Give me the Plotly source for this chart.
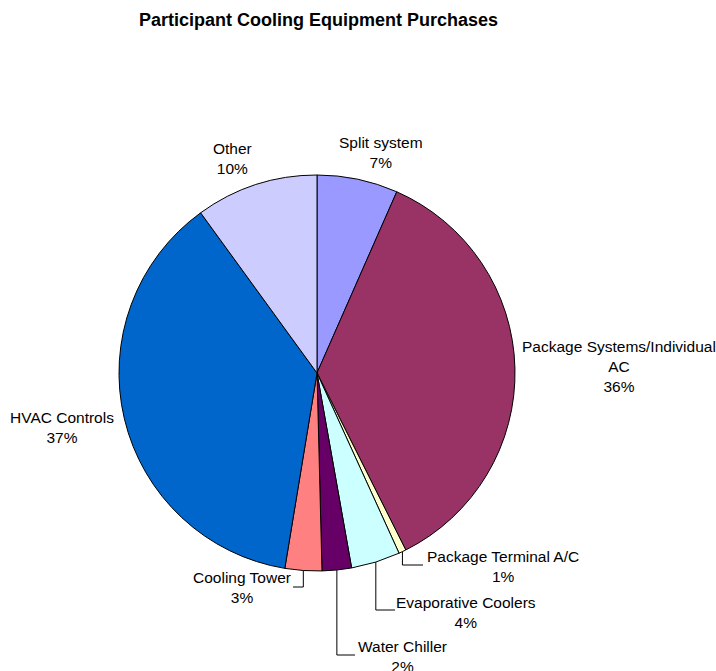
import math
import plotly.graph_objects as go

# ---- data ----
categories = ["Split system", "Package Systems/Individual<br>AC", "Package Terminal A/C",
              "Evaporative Coolers", "Water Chiller", "Cooling Tower", "HVAC Controls", "Other"]
values = [6.6, 36.0, 0.6, 4.0, 2.4, 3.0, 37.4, 10.0]
colors = ["#9999FF", "#993366", "#FFFFCC", "#CCFFFF", "#660066", "#FF8080", "#0066CC", "#CCCCFF"]

# ---- layout (pixels) ----
W, H = 716, 671
CX, CY, R = 317, 373, 198
FONT = "Liberation Sans, Arial, sans-serif"

# label centre positions (px) and optional leader elbow (elbow_y, end_x)
label_pos = [(381, 152), (619, 366), (503, 566), (466, 612), (402, 656), (242, 587), (62, 427), (232, 158)]
leaders = {2: (565, 423), 3: (610, 395), 4: (655, 355), 5: (587, 293)}

def px(x):
    return x / W

def py(y):
    return 1 - y / H

total = sum(values)
fig = go.Figure(go.Pie(
    labels=[c.replace("<br>", " ") for c in categories],
    values=values,
    sort=False,
    direction="clockwise",
    rotation=0,
    marker=dict(colors=colors, line=dict(color="black", width=1)),
    textinfo="none",
    showlegend=False,
    domain=dict(x=[px(CX - R), px(CX + R)], y=[py(CY + R), py(CY - R)]),
))

annotations = []
shapes = []
cum = 0.0
for i, (name, v) in enumerate(zip(categories, values)):
    frac = v / total
    mid = (cum + frac / 2) * 2 * math.pi
    cum += frac
    lx, ly = label_pos[i]
    annotations.append(dict(
        x=px(lx), y=py(ly), xref="paper", yref="paper",
        text=f"{name}<br>{math.floor(frac * 100 + 0.5)}%", showarrow=False,
        xanchor="center", yanchor="middle", align="center",
        font=dict(family=FONT, size=15.5, color="black"),
    ))
    if i in leaders:
        sx = CX + R * math.sin(mid)
        sy = CY - R * math.cos(mid)
        ey, ex = leaders[i]
        path = f"M {px(sx)} {py(sy)} L {px(sx)} {py(ey)} L {px(ex)} {py(ey)}"
        shapes.append(dict(type="path", xref="paper", yref="paper", path=path,
                           line=dict(color="black", width=1)))

annotations.append(dict(
    x=px(318), y=py(20), xref="paper", yref="paper",
    text="<b>Participant Cooling Equipment Purchases</b>", showarrow=False,
    xanchor="center", yanchor="middle",
    font=dict(family=FONT, size=18, color="black"),
))

fig.update_layout(
    width=W, height=H,
    margin=dict(l=0, r=0, t=0, b=0),
    paper_bgcolor="white", plot_bgcolor="white",
    annotations=annotations, shapes=shapes,
)

fig.write_html("out.html", config={"displayModeBar": False},
               post_script="document.body.style.margin='0';document.body.style.overflow='hidden';")
